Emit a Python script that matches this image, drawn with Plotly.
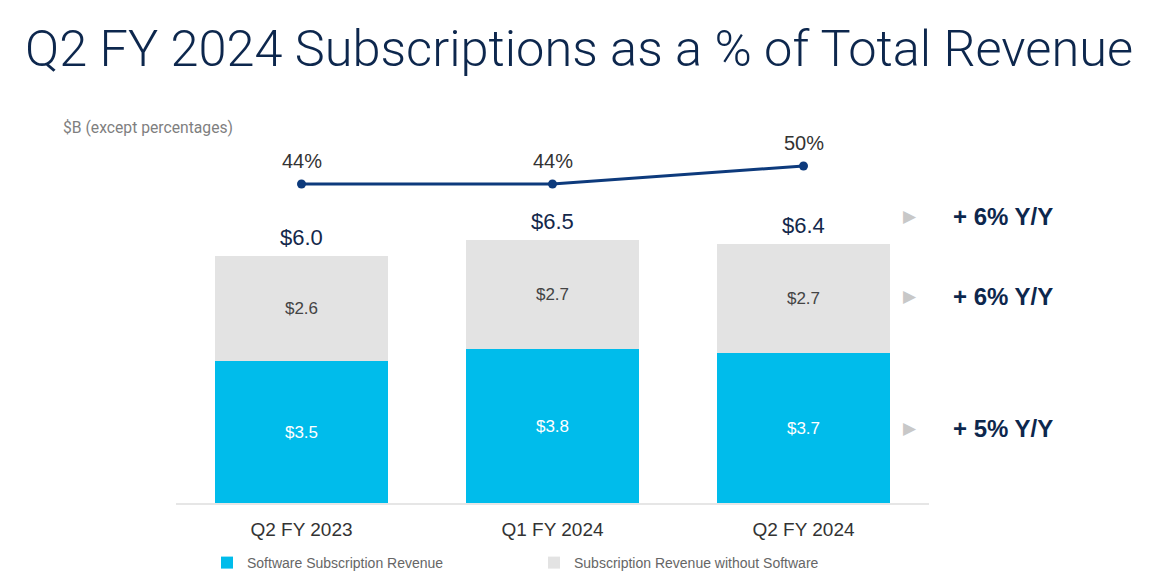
import plotly.graph_objects as go

categories = ["Q2 FY 2023", "Q1 FY 2024", "Q2 FY 2024"]
software = [3.5, 3.8, 3.7]
non_software = [2.6, 2.7, 2.7]
totals = [6.0, 6.5, 6.4]
pct = [44, 44, 50]
growth_labels = ["+ 6% Y/Y", "+ 6% Y/Y", "+ 5% Y/Y"]

CYAN = "#00BCEB"
GREY = "#E3E3E3"
NAVY = "#0D3A7C"
TITLE = "#0D274D"
ROBOTO = "Roboto"
ARIAL = "Liberation Sans"

# The page body has an 8px margin; lay out the figure so it fills the window.
OFF = 8
W, H = 1164 - OFF, 581 - OFF
# plot area in reference pixels
PL, PR, PT, PB = 176, 929, 120, 503


def px_x(x):
    return (x - PL) / (PR - PL)


def px_y(y):
    return (PB - y) / (PB - PT)


fig = go.Figure()
fig.add_trace(go.Bar(
    x=categories, y=software, name="Software Subscription Revenue",
    marker=dict(color=CYAN, line=dict(width=0)),
    text=[f"${v:.1f}" for v in software], textposition="inside",
    insidetextanchor="middle", textangle=0,
    textfont=dict(color="white", size=17, family=ARIAL),
    hoverinfo="skip",
))
fig.add_trace(go.Bar(
    x=categories, y=non_software, name="Subscription Revenue without Software",
    marker=dict(color=GREY, line=dict(width=0)),
    text=[f"${v:.1f}" for v in non_software], textposition="inside",
    insidetextanchor="middle", textangle=0,
    textfont=dict(color="#444444", size=17, family=ARIAL),
    hoverinfo="skip",
))
fig.add_trace(go.Scatter(
    x=categories, y=pct, yaxis="y2", mode="lines+markers",
    line=dict(color=NAVY, width=3), marker=dict(color=NAVY, size=9),
    showlegend=False, hoverinfo="skip",
))

annotations = []
# totals above bars
for c, s, n, t in zip(categories, software, non_software, totals):
    annotations.append(dict(x=c, y=s + n, xref="x", yref="y", text=f"${t:.1f}",
                            showarrow=False, yanchor="bottom", yshift=4,
                            font=dict(color="#14284B", size=22, family=ARIAL)))
# percentage labels
for c, p in zip(categories, pct):
    annotations.append(dict(x=c, y=p, xref="x", yref="y2", text=f"{p}%",
                            showarrow=False, yanchor="bottom", yshift=10,
                            font=dict(color="#333333", size=20, family=ARIAL)))

# right-side growth annotations (pixel rows of the reference)
growth_rows = [216, 296, 428]
for lab, yp in zip(growth_labels, growth_rows):
    annotations.append(dict(x=px_x(910), xref="paper", y=px_y(yp), yref="paper",
                            xanchor="center", yanchor="middle", text="▶", showarrow=False,
                            font=dict(color="#C8C8C8", size=17, family="DejaVu Sans")))
    annotations.append(dict(x=px_x(951), xref="paper", y=px_y(yp), yref="paper",
                            xanchor="left", yanchor="middle", text=f"<b>{lab}</b>",
                            showarrow=False,
                            font=dict(color="#0D274D", size=24, family=ARIAL)))
annotations.append(dict(text="$B (except percentages)", x=px_x(61), y=px_y(127),
                        xref="paper", yref="paper", showarrow=False, xanchor="left",
                        yanchor="middle", font=dict(size=15.7, color="#7F7F7F", family=ROBOTO)))

fig.update_layout(
    width=W, height=H,
    paper_bgcolor="white", plot_bgcolor="white",
    barmode="stack", bargap=0.31,
    margin=dict(l=PL - OFF, r=W - (PR - OFF), t=PT - OFF, b=H - (PB - OFF),
                autoexpand=False),
    font=dict(family=ARIAL, color="#333333"),
    title=dict(text="Q2 FY 2024 Subscriptions as a % of Total Revenue",
               x=(25 - OFF) / W, xanchor="left", y=1 - (48 - OFF) / H, yanchor="middle",
               font=dict(family=ROBOTO, size=50.5, color=TITLE, weight=300)),
    xaxis=dict(showgrid=False, showline=True, linecolor="#E6E6E6", linewidth=2,
               ticks="", ticklabelstandoff=8,
               tickfont=dict(size=19, color="#333333", family=ARIAL),
               range=[-0.5, 2.5], fixedrange=True),
    yaxis=dict(range=[0, 9.457], visible=False, showgrid=False, zeroline=False),
    yaxis2=dict(range=[-62.33, 65.33], overlaying="y", visible=False,
                showgrid=False, zeroline=False),
    legend=dict(orientation="h", x=px_x(207), xanchor="left", y=px_y(547), yanchor="top",
                entrywidth=282, font=dict(size=14, color="#666666", family=ARIAL),
                itemwidth=30, traceorder="normal"),
    annotations=annotations,
)

fig.write_html("out.html")
